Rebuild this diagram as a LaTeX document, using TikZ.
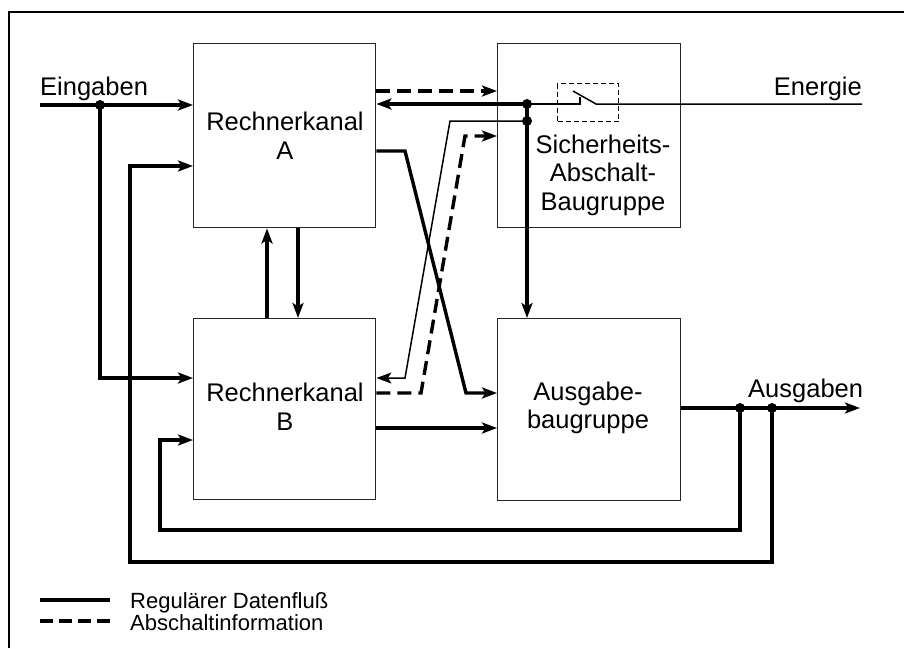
\documentclass[tikz,border=0pt]{standalone}
\usepackage{fontspec}
\setmainfont{Liberation Sans}
\usetikzlibrary{arrows.meta}
\begin{document}
\begin{tikzpicture}[x=1pt,y=-1pt,
  box/.style={draw=black!85, line width=1.4pt, minimum width=182pt, minimum height=184pt, inner sep=0pt, anchor=north west},
  lbl/.style={font=\fontsize{25.5}{28.5}\selectfont, align=center, inner sep=0pt},
  txt/.style={font=\fontsize{25.5}{28.5}\selectfont, inner sep=0pt},
  legtxt/.style={font=\fontsize{22}{24}\selectfont, inner sep=0pt, anchor=base west},
  strong/.style={line width=3.4pt},
  fine/.style={line width=1.5pt},
  dsh/.style={line width=3.4pt, dash pattern=on 14pt off 7pt},
  arr/.style={-{Stealth[length=15pt,width=11pt,inset=3.5pt]}},
  jdot/.style={circle, fill=black, inner sep=0pt, minimum size=10pt}]
\useasboundingbox (0,0) rectangle (904,648);
% frame
\draw[line width=1.4pt] (9,648) -- (9,12) -- (904,12);
% boxes
\node[box] (A) at (193,43) {};
\node[box, minimum height=181pt] (B) at (193,318) {};
\node[box, minimum width=183pt] (S) at (497,43) {};
\node[box, minimum width=183pt, minimum height=182pt] (O) at (497,318) {};
\node[lbl] (tA) at (285,136) {Rechnerkanal\\A};
\node[lbl] (tB) at (285,407) {Rechnerkanal\\B};
\node[lbl] (tS) at (603,175) {Sicherheits-\\Abschalt-\\Baugruppe};
\node[lbl] (tO) at (588,408) {Ausgabe-\\baugruppe};
% inputs
\coordinate (ein) at (40,105);
\coordinate (j1) at (100,105);
\node[txt, anchor=base west] (lein) at (40,95) {Eingaben};
\draw[strong,arr] (ein) -- (A.west |- ein);
\draw[strong,arr] (j1) |- (B.west |- 0,378);
% output and feedback loops
\coordinate (o1) at (740,408);
\coordinate (o2) at (772,408);
\coordinate (oend) at (860,408);
\node[txt, anchor=base west] (laus) at (748,397) {Ausgaben};
\draw[strong,arr] (O.east |- oend) -- (oend);
\draw[strong,arr] (o1) |- (160,530) |- (B.west |- 0,440);
\draw[strong,arr] (o2) |- (130,562) |- (A.west |- 0,166);
% energy line with switch
\coordinate (en) at (862,104);
\coordinate (d1) at (527,104);
\coordinate (d2) at (527,121);
\node[txt, anchor=base east] (lener) at (862,95) {Energie};
\node[draw, line width=1pt, dash pattern=on 5pt off 3pt, minimum width=61pt, minimum height=38pt, inner sep=0pt, anchor=north west] (sw) at (557,83) {};
\draw[fine] (d1) -- (580,104) -- (580,97);
\draw[fine] (573,91) -- (596,104) -- (en);
\draw[strong,arr] (d1) -- (A.east |- d1);
\draw[strong,arr] (d1) -- (O.north -| d1);
\draw[fine,arr] (d2) -- (450,121) -- (405,378) -- (B.east |- 0,378);
% shutdown info
\draw[dsh,arr] (A.east |- 0,91) -- (S.west |- 0,91);
\draw[dsh,arr] (B.east |- 0,393) -- (421,393) -- (465,136) -- (S.west |- 0,136);
% regular data
\draw[strong,arr] (A.east |- 0,151) -- (405,151) -- (466,393) -- (O.west |- 0,393);
\draw[strong,arr] (B.east |- 0,428) -- (O.west |- 0,428);
\draw[strong,arr] (B.north -| 267,0) -- (A.south -| 267,0);
\draw[strong,arr] (A.south -| 298,0) -- (B.north -| 298,0);
% dots
\node[jdot] at (j1) {};
\node[jdot] at (o1) {};
\node[jdot] at (o2) {};
\node[jdot] at (d1) {};
\node[jdot] at (d2) {};
% legend
\coordinate (l1a) at (40,600); \coordinate (l1b) at (110,600);
\coordinate (l2a) at (40,621); \coordinate (l2b) at (110,621);
\draw[strong] (l1a) -- (l1b);
\draw[strong, dash pattern=on 13pt off 6pt] (l2a) -- (l2b);
\node[legtxt] (lg1) at (130,608) {Regulärer Datenfluß};
\node[legtxt] (lg2) at (130,630) {Abschaltinformation};
\end{tikzpicture}
\end{document}
